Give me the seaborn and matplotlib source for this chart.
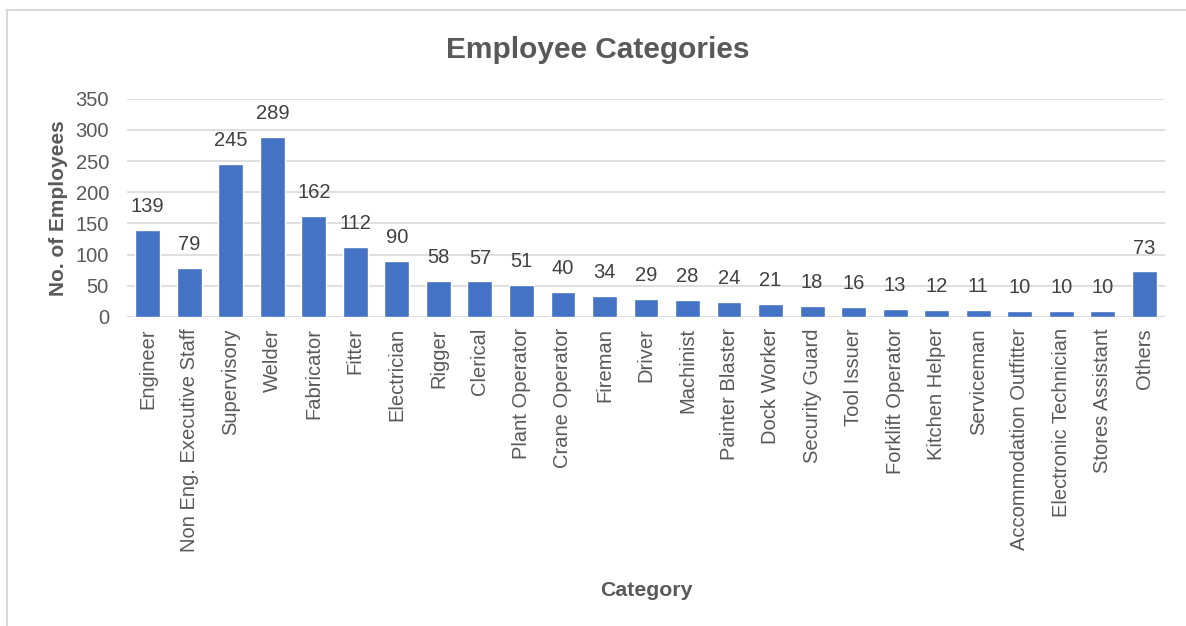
import matplotlib
matplotlib.use("Agg")
import matplotlib.pyplot as plt
import seaborn as sns
import pandas as pd
from matplotlib.lines import Line2D

categories = ["Engineer", "Non Eng. Executive Staff", "Supervisory", "Welder", "Fabricator",
              "Fitter", "Electrician", "Rigger", "Clerical", "Plant Operator", "Crane Operator",
              "Fireman", "Driver", "Machinist", "Painter Blaster", "Dock Worker", "Security Guard",
              "Tool Issuer", "Forklift Operator", "Kitchen Helper", "Serviceman",
              "Accommodation Outfitter", "Electronic Technician", "Stores Assistant", "Others"]
counts = [139, 79, 245, 289, 162, 112, 90, 58, 57, 51, 40, 34, 29, 28, 24, 21, 18, 16, 13,
          12, 11, 10, 10, 10, 73]
yticks = [0, 50, 100, 150, 200, 250, 300, 350]

df = pd.DataFrame({"Category": categories, "Employees": counts})

sns.set_theme(style="white")
plt.rcParams['font.family'] = ['Liberation Sans', 'DejaVu Sans']

fig = plt.figure(figsize=(11.86, 6.26), dpi=100)
ax = fig.add_axes([127/1186, 1-317/626, (1165-127)/1186, (317-98.7)/626])

sns.barplot(data=df, x="Category", y="Employees", color="#4472C4", width=0.6,
            saturation=1, ax=ax, zorder=3)

ax.set_ylim(0, 350)
ax.set_xlim(-0.5, len(categories)-0.5)
ax.set_yticks(yticks)
ax.yaxis.grid(True, color="#D9D9D9", linewidth=1.2, zorder=0)
ax.set_axisbelow(True)
for s in ax.spines.values():
    s.set_visible(False)
ax.axhline(0, color="#D9D9D9", linewidth=1.2, zorder=1)

ax.tick_params(axis='both', length=0)
ax.tick_params(axis='y', pad=13, labelsize=14.5, labelcolor="#595959")
ax.set_xticks(range(len(categories)))
ax.set_xticklabels(categories, rotation=90, fontsize=14.5, color="#595959")
ax.tick_params(axis='x', pad=8)

for i, v in enumerate(counts):
    ax.annotate(str(v), (i, v), xytext=(0, 10), textcoords="offset points",
                ha="center", va="bottom", fontsize=14.5, color="#404040")

ax.set_xlabel("")
ax.set_ylabel("")
fig.text(646/1186, 1-590/626, "Category", ha="center", va="center",
         fontsize=15.3, fontweight="bold", color="#595959")
fig.text(58/1186, 1-208/626, "No. of Employees", ha="center", va="center", rotation=90,
         fontsize=15, fontweight="bold", color="#595959")
fig.text(598/1186, 1-50/626, "Employee Categories", ha="center", va="center",
         fontsize=21.5, fontweight="bold", color="#595959")

# chart border
fig.add_artist(Line2D([7/1186, 7/1186], [0, 1-10/626], transform=fig.transFigure,
                      color="#D9D9D9", linewidth=1.5))
fig.add_artist(Line2D([7/1186, 1], [1-10/626, 1-10/626], transform=fig.transFigure,
                      color="#D9D9D9", linewidth=1.5))

fig.savefig("out.png", dpi=100)
